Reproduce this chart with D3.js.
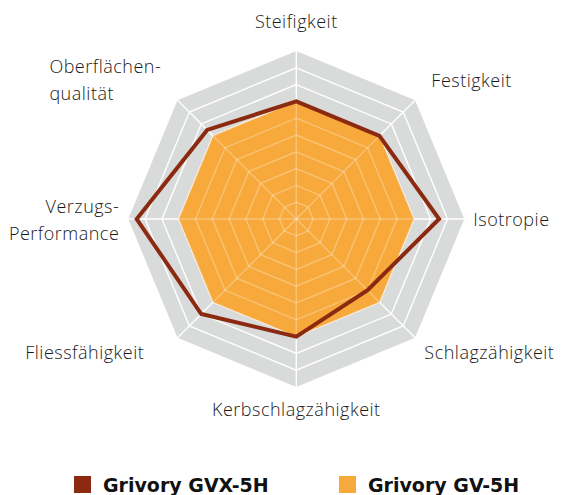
<!DOCTYPE html>
<html>
<head>
<meta charset="utf-8">
<script src="https://cdn.jsdelivr.net/npm/d3@7"></script>
<style>
  body { margin: 0; background: #fff; }
  svg { display: block; }
</style>
</head>
<body>
<div id="chart"></div>
<script>
var width = 564,
    height = 495;

// axes clockwise from the top
var axes = ["Steifigkeit", "Festigkeit", "Isotropie", "Schlagzähigkeit",
            "Kerbschlagzähigkeit", "Fliessfähigkeit", "Verzugs-Performance", "Oberflächenqualität"];
var axisLabels = [["Steifigkeit"], ["Festigkeit"], ["Isotropie"], ["Schlagzähigkeit"],
                  ["Kerbschlagzähigkeit"], ["Fliessfähigkeit"], ["Verzugs-", "Performance"], ["Oberflächen-", "qualität"]];
var levels = [1, 2, 3, 4, 5, 6, 7, 8, 9, 10];

var seriesNames = ["Grivory GVX-5H", "Grivory GV-5H"];
var gvx5h = [7, 7, 8.5, 6, 7, 8, 9.5, 7.5];
var gv5h = [7, 7, 7, 7, 7, 7, 7, 7];

var cx = 296.3, cy = 219, R = 168;

var svg = d3.select("#chart").append("svg")
    .attr("width", width)
    .attr("height", height);

var r = d3.scaleLinear().domain([0, 10]).range([0, R]);
var angle = d3.scaleLinear().domain([0, axes.length]).range([0, 2 * Math.PI]);

function pt(i, v) {
  var a = angle(i);
  return [cx + r(v) * Math.sin(a), cy - r(v) * Math.cos(a)];
}

function ring(v) {
  return axes.map(function(d, i) { return pt(i, v); });
}

var line = d3.line().curve(d3.curveLinearClosed);

// grey background
svg.append("path")
    .attr("d", line(ring(10)))
    .attr("fill", "#d9dada");

function drawGrid(g, stroke, op) {
  g.selectAll("path.ring")
    .data(levels.slice(0, -1))
    .enter().append("path")
      .attr("class", "ring")
      .attr("d", function(v) { return line(ring(v)); })
      .attr("fill", "none")
      .attr("stroke", stroke)
      .attr("stroke-opacity", op)
      .attr("stroke-width", 1.4);
  g.selectAll("line.spoke")
    .data(axes)
    .enter().append("line")
      .attr("class", "spoke")
      .attr("x1", cx).attr("y1", cy)
      .attr("x2", function(d, i) { return pt(i, 10)[0]; })
      .attr("y2", function(d, i) { return pt(i, 10)[1]; })
      .attr("stroke", stroke)
      .attr("stroke-opacity", op)
      .attr("stroke-width", 1.4);
}

drawGrid(svg.append("g"), "#fff", 1);

// GV-5H area
svg.append("path")
    .attr("d", line(gv5h.map(function(v, i) { return pt(i, v); })))
    .attr("fill", "#f7a93b");

// faint grid over the orange
var gTop = svg.append("g");
gTop.append("clipPath").attr("id", "clipOrange")
  .append("path")
    .attr("d", line(gv5h.map(function(v, i) { return pt(i, v); })));
drawGrid(gTop.append("g").attr("clip-path", "url(#clipOrange)"), "#fff", 0.3);

// GVX-5H line
svg.append("path")
    .attr("d", line(gvx5h.map(function(v, i) { return pt(i, v); })))
    .attr("fill", "none")
    .attr("stroke", "#8b2a10")
    .attr("stroke-width", 4)
    .attr("stroke-linejoin", "miter");

// axis labels
axisLabels.forEach(function(lines, i) {
  var a = angle(i);
  var s = Math.round(Math.sin(a) * 100) / 100,
      c = Math.round(Math.cos(a) * 100) / 100;
  var lr = (s !== 0 && c === 0) ? R + 9 : R + 23;
  var x = cx + lr * Math.sin(a),
      y = cy - lr * Math.cos(a);
  var anchor = s > 0 ? "start" : (s < 0 ? "end" : "middle");
  var lh = 27;
  var y0;
  if (c === 1) y0 = y;
  else if (c === -1) y0 = y + 6;
  else if (c > 0) y0 = y + 3 - (lines.length - 1) * lh / 2;
  else if (c < 0) { y0 = y + 5; x += s > 0 ? -7 : -17; }
  else y0 = y + 7 - (lines.length - 1) * lh / 2;

  var t = svg.append("text")
      .attr("x", x)
      .attr("y", y0)
      .attr("text-anchor", anchor)
      .style("font-family", "'Open Sans', sans-serif")
      .style("font-weight", 300)
      .style("font-size", "18px")
      .style("letter-spacing", "0.5px")
      .style("fill", "#1a1a1a");
  lines.forEach(function(l, j) {
    t.append("tspan").attr("x", x).attr("y", y0 + j * lh).text(l);
  });
  // top-left label is a left-aligned block
  if (s < 0 && c > 0 && lines.length > 1) {
    var w = t.node().getBBox().width;
    t.attr("text-anchor", "start");
    t.selectAll("tspan").attr("x", x - w);
  }
});

// legend
var legendColors = ["#8b2a10", "#f7a93b"];
var lx = d3.scaleOrdinal().domain(seriesNames).range([74, 339]);
var leg = svg.selectAll("g.legend")
  .data(seriesNames)
  .enter().append("g")
    .attr("class", "legend")
    .attr("transform", function(d) { return "translate(" + lx(d) + ",476)"; });
leg.append("rect")
    .attr("width", 17).attr("height", 17)
    .attr("fill", function(d, i) { return legendColors[i]; });
leg.append("text")
    .attr("x", 29).attr("y", 16)
    .style("font-family", "'DejaVu Sans', sans-serif")
    .style("font-weight", "bold")
    .style("font-size", "19px")
    .style("fill", "#111")
    .text(function(d) { return d; });
</script>
</body>
</html>
